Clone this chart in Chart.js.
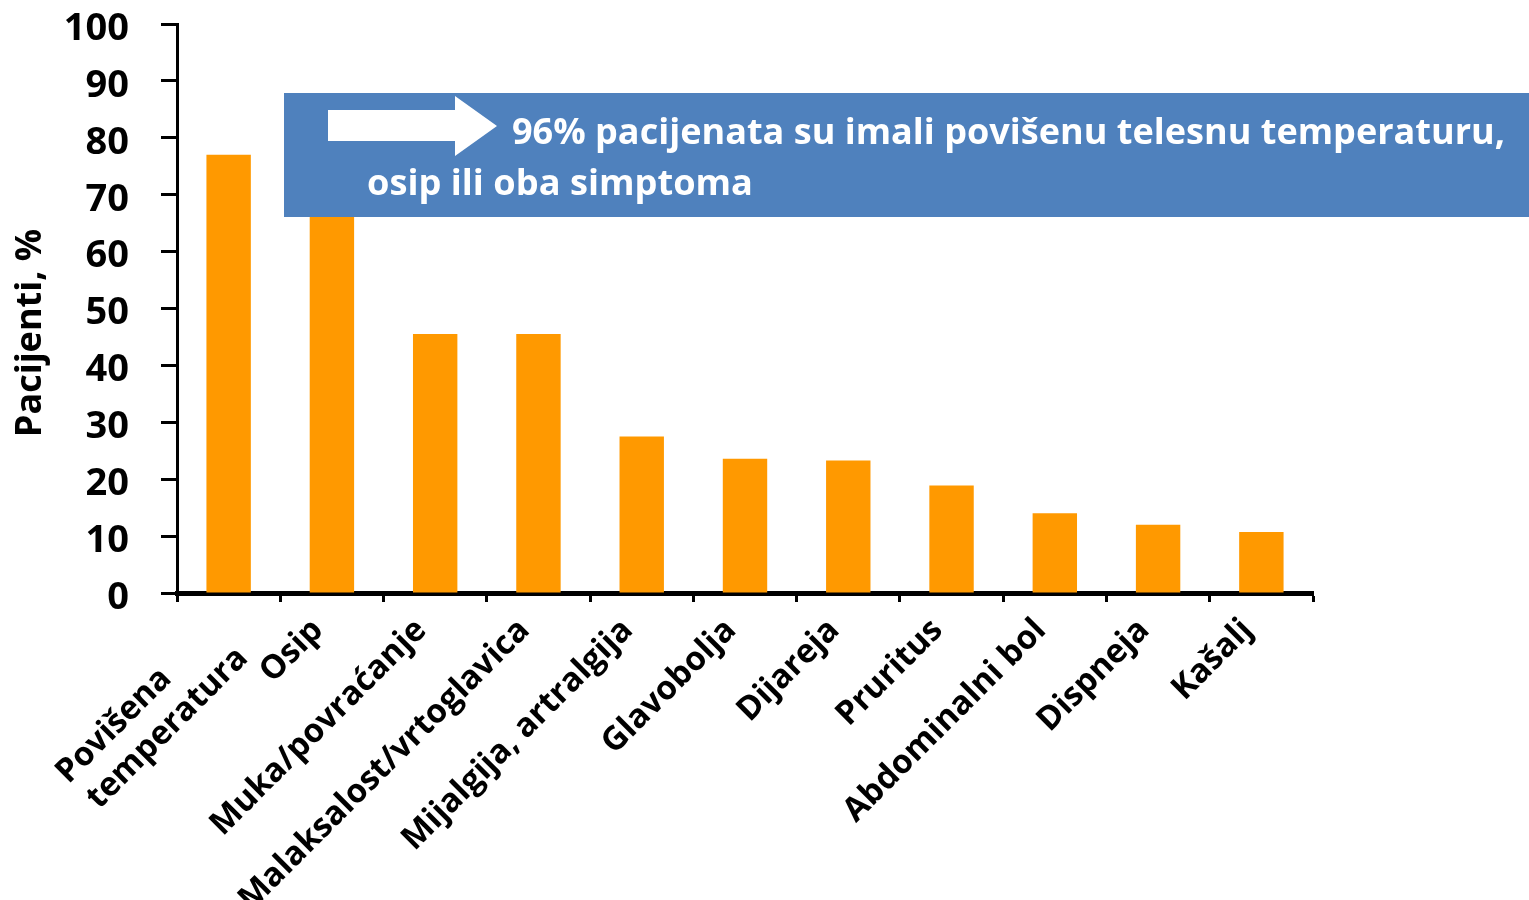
<!DOCTYPE html>
<html>
<head>
<meta charset="utf-8">
<script src="https://cdn.jsdelivr.net/npm/chart.js@4.4.1/dist/chart.umd.min.js"></script>
<style>
  html, body { margin: 0; padding: 0; background: #fff; }
  #wrap { width: 1529px; height: 900px; position: relative; }
</style>
</head>
<body>
<div id="wrap"><canvas id="symptomChart"></canvas></div>
<script>
// categories and values
var symptoms = [
    ['Povišena        ', 'temperatura'],
    'Osip',
    'Muka/povraćanje',
    'Malaksalost/vrtoglavica',
    'Mijalgija, artralgija',
    'Glavobolja',
    'Dijareja',
    'Pruritus',
    'Abdominalni bol',
    'Dispneja',
    'Kašalj'
];
var patientsPct = [77, 67, 45.5, 45.5, 27.5, 23.6, 23.3, 18.9, 14, 12, 10.7];
var yTickValues = [0, 10, 20, 30, 40, 50, 60, 70, 80, 90, 100];

var yTitle = 'Pacijenti, %';
var calloutLine1 = '96% pacijenata su imali povišenu telesnu temperaturu,';
var calloutLine2 = 'osip ili oba simptoma';

var FONT = '"Open Sans", "Noto Sans", sans-serif';

// write text so that it fills a given width
function fitText(ctx, text, x, y, width, baseSize) {
    ctx.font = 'bold ' + baseSize + 'px ' + FONT;
    var w = ctx.measureText(text).width;
    var size = baseSize * width / w;
    ctx.font = 'bold ' + size.toFixed(2) + 'px ' + FONT;
    ctx.fillText(text, x, y);
}

var sidePlugin = {
    id: 'sideText',
    afterDraw: function (chart) {
        var ctx = chart.ctx;
        ctx.save();

        // y title
        ctx.fillStyle = '#000';
        ctx.translate(31, 333);
        ctx.rotate(-Math.PI / 2);
        ctx.textAlign = 'center';
        ctx.textBaseline = 'middle';
        ctx.font = 'bold 36px ' + FONT;
        ctx.fillText(yTitle, 0, 0);
        ctx.setTransform(1, 0, 0, 1, 0, 0);

        // blue callout over the top of the bars
        ctx.fillStyle = '#4F81BD';
        ctx.fillRect(284, 93, 1529 - 284, 124);

        ctx.fillStyle = '#fff';
        ctx.beginPath();
        ctx.moveTo(328, 110);
        ctx.lineTo(455, 110);
        ctx.lineTo(455, 96);
        ctx.lineTo(497, 126);
        ctx.lineTo(455, 156);
        ctx.lineTo(455, 141);
        ctx.lineTo(328, 141);
        ctx.closePath();
        ctx.fill();

        ctx.textAlign = 'left';
        ctx.textBaseline = 'alphabetic';
        fitText(ctx, calloutLine1, 512, 144, 993, 36);
        fitText(ctx, calloutLine2, 367, 195, 386, 36);

        ctx.restore();
    }
};

var ctx = document.getElementById('symptomChart').getContext('2d');
var chart = new Chart(ctx, {
    type: 'bar',
    data: {
        labels: symptoms,
        datasets: [{
            data: patientsPct,
            backgroundColor: '#FF9900',
            borderWidth: 0,
            barPercentage: 0.43,
            categoryPercentage: 1.0
        }]
    },
    options: {
        responsive: true,
        maintainAspectRatio: false,
        devicePixelRatio: 1,
        animation: false,
        layout: { padding: { top: 24, right: 216, left: 0, bottom: 0 } },
        plugins: { legend: { display: false }, tooltip: { enabled: false } },
        scales: {
            x: {
                grid: { drawOnChartArea: false, offset: true, tickLength: 9, tickWidth: 3, tickColor: '#000' },
                border: { color: '#000', width: 5 },
                ticks: {
                    color: '#000',
                    maxRotation: 45,
                    minRotation: 45,
                    autoSkip: false,
                    padding: 9,
                    labelOffset: -14,
                    font: { family: FONT, size: 33, weight: 'bold', lineHeight: 1.2 }
                },
                afterFit: function (scale) {
                    scale.height = 307;
                    scale.paddingLeft = 0;
                    scale.paddingRight = 0;
                }
            },
            y: {
                min: 0,
                max: 100,
                afterBuildTicks: function (scale) {
                    scale.ticks = yTickValues.map(function (v) { return { value: v }; });
                },
                grid: { drawOnChartArea: false, tickLength: 16, tickWidth: 3, tickColor: '#000' },
                border: { color: '#000', width: 3 },
                ticks: {
                    color: '#000',
                    padding: 32,
                    labelOffset: 5,
                    font: { family: FONT, size: 38, weight: 'bold' }
                },
                afterFit: function (scale) {
                    scale.width = 177;
                    scale.paddingTop = 0;
                    scale.paddingBottom = 0;
                }
            }
        }
    },
    plugins: [sidePlugin]
});
</script>
</body>
</html>
